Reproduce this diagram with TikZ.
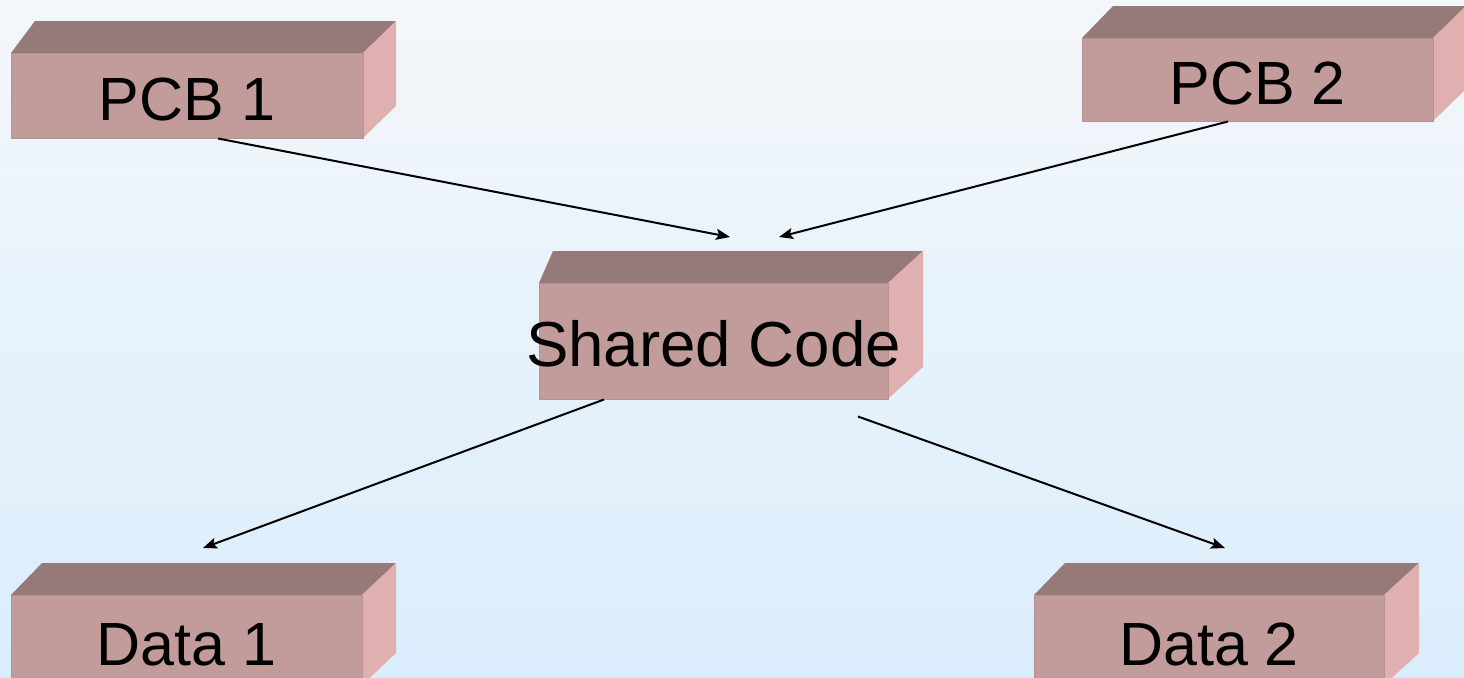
\documentclass[tikz,border=0pt]{standalone}
\usepackage{fontspec}
\setmainfont{Liberation Sans}
\usetikzlibrary{arrows.meta}
\definecolor{slabtop}{RGB}{150,121,121}
\definecolor{slabfront}{RGB}{194,156,154}
\definecolor{slabside}{RGB}{224,176,176}
\definecolor{slabedge}{RGB}{184,146,146}
\definecolor{skytop}{RGB}{244,247,250}
\definecolor{skybottom}{RGB}{218,237,252}
\tikzset{
  slabface/.style={fill=slabfront, draw=slabedge, line width=0.5pt, inner sep=0pt,
    font=\fontsize{30.5}{36}\selectfont},
  flow/.style={line width=1pt, -{Stealth[length=7pt,width=5.5pt,inset=1.4pt]}},
}
% #1 name, (#2,#3) front top left, (#4,#5) front bottom right,
% #6 / #7 slant of the left / right back edge, #8 text
\newcommand{\slab}[8]{%
  \fill[slabtop] (#2,#3) -- (#2+#6,#3-32) -- (#4+#7,#3-32) -- (#4,#3) -- cycle;
  \fill[slabside] (#4,#3) -- (#4+#7,#3-32) -- (#4+#7,#5-32) -- (#4,#5) -- cycle;
  \node[slabface, minimum width={(#4-#2)*0.5pt}, minimum height={(#5-#3)*0.5pt}]
    (#1) at ({(#2+#4)/2},{(#3+#5)/2}) {\makebox[0pt]{\rule{0pt}{0.83em}#8}};
}

\begin{document}
\begin{tikzpicture}[x=0.5pt,y=-0.5pt]
  \useasboundingbox (0,0) rectangle (1464,677);
  \clip (0,0) rectangle (1464,677);
  \fill[top color=skytop, bottom color=skybottom] (0,0) rectangle (1464,677);

  %%%%% boxes %%%%%
  \slab{pcbone}{11}{53}{363}{138}{24}{33}{PCB 1}
  \slab{pcbtwo}{1082}{38}{1433}{121}{31}{33}{PCB 2}
  \slab{shared}{539}{283}{888}{399}{14}{35}{{\fontsize{31.8}{38}\selectfont Shared Code}}
  \slab{dataone}{11}{595}{362}{685}{31}{34}{Data 1}
  \slab{datatwo}{1034}{595}{1384}{685}{31}{35}{Data 2}

  %%%%% arrows %%%%%
  \coordinate (pcbonetip) at (730,237);
  \coordinate (pcbtwotip) at (779,237);
  \coordinate (dataonetip) at (203,548);
  \coordinate (datatwotip) at (1225,548);

  \draw[flow] ([xshift=15.5pt]pcbone.south) -- (pcbonetip);
  \draw[flow] ([xshift=-14.75pt]pcbtwo.south) -- (pcbtwotip);
  \draw[flow] ([xshift=-54.75pt]shared.south) -- (dataonetip);
  \draw[flow] ([xshift=72.25pt,yshift=-8.5pt]shared.south) -- (datatwotip);
\end{tikzpicture}
\end{document}
